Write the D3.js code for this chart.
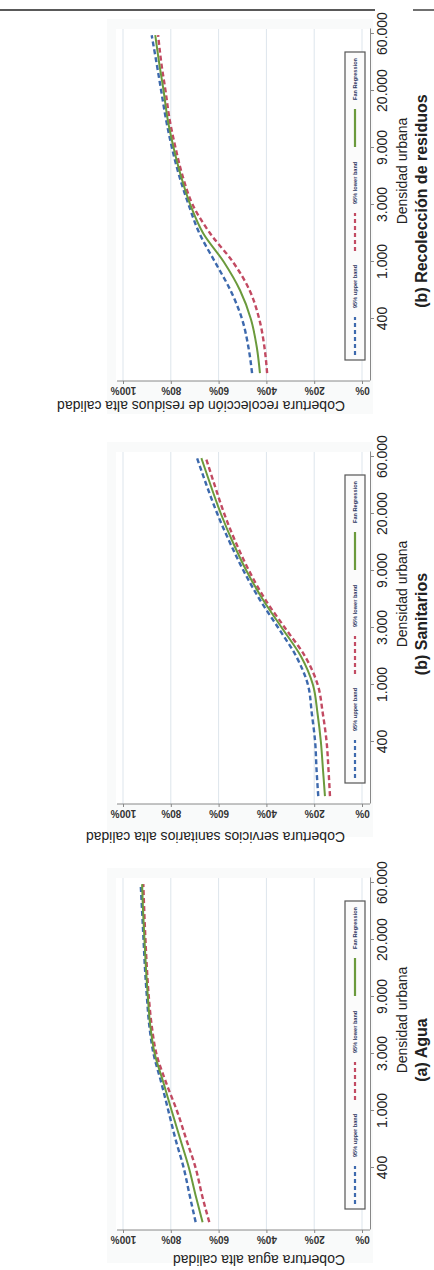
<!DOCTYPE html>
<html>
<head>
<meta charset="utf-8">
<script src="https://cdn.jsdelivr.net/npm/d3@7"></script>
<style>
  body { margin: 0; background: #fff; }
  svg { display: block; }
  text { font-family: "Liberation Sans", Arial, Helvetica, sans-serif; }
</style>
</head>
<body>
<script>
// x axis is ln(density); tick labels are the rounded densities
var xTickValues = [6, 7, 8, 9, 10, 11];
var xTickLabels = ["400", "1.000", "3.000", "9.000", "20.000", "60.000"];
var yTickValues = [0, 20, 40, 60, 80, 100];
var yTickLabels = ["0%", "20%", "40%", "60%", "80%", "100%"];

var lnDensity = [5.05, 5.5, 6, 6.5, 7, 7.5, 8, 8.5, 9, 9.5, 10, 10.5, 10.98];

// (a) Agua
var aguaFit   = [66.7, 69.5, 72.4, 76.0, 79.6, 83.1, 86.7, 88.6, 89.6, 90.4, 91.0, 91.6, 92.0];
var aguaUpper = [69.6, 72.0, 74.6, 78.0, 81.0, 84.0, 87.2, 89.0, 90.0, 90.8, 91.4, 92.0, 92.6];
var aguaLower = [63.9, 66.8, 69.6, 73.5, 77.4, 82.0, 86.0, 88.0, 89.2, 90.0, 90.6, 91.1, 91.5];

// (b) Sanitarios
var saniFit   = [15.5, 16.3, 17.2, 18.6, 20.5, 25.5, 33.5, 41.5, 48.3, 54.0, 59.0, 63.3, 67.2];
var saniUpper = [18.3, 19.0, 19.6, 21.0, 22.6, 27.5, 35.0, 42.8, 49.5, 55.3, 60.5, 65.0, 69.0];
var saniLower = [13.4, 14.0, 14.8, 16.4, 18.5, 23.8, 32.2, 40.5, 47.2, 52.8, 57.6, 61.6, 65.3];

// (b) Recolección de residuos
var recoFit   = [42.7, 44.0, 46.5, 51.0, 57.8, 66.4, 71.8, 75.7, 78.8, 81.3, 83.0, 84.9, 86.5];
var recoUpper = [46.0, 47.5, 50.2, 55.0, 61.5, 68.0, 72.5, 76.4, 79.5, 82.0, 84.0, 86.0, 88.0];
var recoLower = [39.7, 40.8, 43.0, 47.0, 54.0, 63.5, 70.8, 75.0, 78.0, 80.5, 82.2, 84.0, 85.3];

var panelTitles = ["(a) Agua", "(b) Sanitarios", "(b) Recolección de residuos"];
var yTitles = ["Cobertura agua alta calidad",
               "Cobertura servicios sanitarios alta calidad",
               "Cobertura recolección de residuos alta calidad"];
var legendLabels = ["95% upper band", "95% lower band", "Fan Regression"];

var panels = [
  {upper: aguaUpper, lower: aguaLower, fit: aguaFit},
  {upper: saniUpper, lower: saniLower, fit: saniFit},
  {upper: recoUpper, lower: recoLower, fit: recoFit}
];

// layout (page is drawn landscape, then turned onto the portrait window)
var pageW = 1270, pageH = 434;
var panelX = [102, 528, 951];
var yTitleOff = [-87, -90, -82];
var blue = "#3d69ad", red = "#c24a62", green = "#6b9a3c";

var svg = d3.select("body").append("svg")
    .attr("width", 434)
    .attr("height", 1270);

var page = svg.append("g")
    .attr("transform", "translate(0," + pageW + ") rotate(-90)");

page.append("rect").attr("width", pageW).attr("height", pageH).attr("fill", "#fff");

// page rule
page.append("line").attr("x1", 1260).attr("x2", 1260).attr("y1", 0).attr("y2", 375)
    .attr("stroke", "#222").attr("stroke-width", 1.3);
page.append("line").attr("x1", 1260).attr("x2", 1260).attr("y1", 413).attr("y2", 434)
    .attr("stroke", "#222").attr("stroke-width", 1.3);

panels.forEach(function(p, i) {
    var X0 = panelX[i];
    var x = d3.scaleLinear().domain([4.912, 11.088]).range([X0 - 62, X0 + 290]);
    var y = d3.scaleLinear().domain([0, 100]).range([362, 123]);

    var g = page.append("g");

    // graph region and plot region
    g.append("rect")
        .attr("x", X0 - 95).attr("y", 107)
        .attr("width", 395).attr("height", 266)
        .attr("fill", "#f9fafa");
    g.append("rect")
        .attr("x", X0 - 62).attr("y", 116)
        .attr("width", 352).attr("height", 254)
        .attr("fill", "#fff");

    // grid
    g.selectAll(".grid")
        .data(yTickValues)
        .enter().append("line")
        .attr("x1", X0 - 62).attr("x2", X0 + 290)
        .attr("y1", function(d) { return y(d); })
        .attr("y2", function(d) { return y(d); })
        .attr("stroke", "#dde5ec").attr("stroke-width", 1);

    // x axis
    var xa = g.append("g")
        .attr("transform", "translate(0,370)")
        .call(d3.axisBottom(x).tickValues(xTickValues)
            .tickFormat(function(d, k) { return xTickLabels[k]; })
            .tickSize(4).tickSizeOuter(0));
    xa.select(".domain").attr("stroke", "#888");
    xa.selectAll(".tick line").attr("stroke", "#888");
    xa.selectAll("text").attr("font-size", 14).attr("fill", "#222")
        .style("font-family", "'Liberation Sans', Arial, sans-serif");

    // y axis
    var ya = g.append("g")
        .attr("transform", "translate(" + (X0 - 62) + ",0)")
        .call(d3.axisLeft(y).tickValues(yTickValues)
            .tickFormat(function(d, k) { return yTickLabels[k]; })
            .tickSize(3).tickSizeOuter(0));
    ya.select(".domain").remove();
    ya.append("line").attr("x1", 0).attr("x2", 0).attr("y1", 117).attr("y2", 370)
        .attr("stroke", "#888");
    ya.selectAll(".tick line").attr("stroke", "#888");
    ya.selectAll("text")
        .attr("x", 0).attr("dy", 0)
        .attr("text-anchor", "middle")
        .attr("transform", "translate(-6,0) rotate(-90)")
        .attr("font-size", 10).attr("font-weight", "bold").attr("fill", "#333")
        .style("font-family", "'Liberation Sans', Arial, sans-serif");

    // curves
    var line = d3.line()
        .x(function(d, k) { return x(lnDensity[k]); })
        .y(function(d) { return y(d); })
        .curve(d3.curveMonotoneX);

    g.append("path").attr("d", line(p.lower)).attr("fill", "none")
        .attr("stroke", red).attr("stroke-width", 2.4).attr("stroke-dasharray", "5,3");
    g.append("path").attr("d", line(p.upper)).attr("fill", "none")
        .attr("stroke", blue).attr("stroke-width", 2.4).attr("stroke-dasharray", "5,3");
    g.append("path").attr("d", line(p.fit)).attr("fill", "none")
        .attr("stroke", green).attr("stroke-width", 2);

    // legend
    g.append("rect")
        .attr("x", X0 - 41).attr("y", 345)
        .attr("width", 308).attr("height", 20)
        .attr("fill", "#fbfbfb").attr("stroke", "#555").attr("stroke-width", 1.2);
    var colors = [blue, red, green];
    legendLabels.forEach(function(lab, k) {
        var lx = X0 - 36 + 104 * k;
        g.append("line")
            .attr("x1", lx).attr("x2", lx + 38)
            .attr("y1", 355).attr("y2", 355)
            .attr("stroke", colors[k]).attr("stroke-width", 2.2)
            .attr("stroke-dasharray", k < 2 ? "4,3" : null);
        g.append("text")
            .attr("x", lx + 47).attr("y", 357)
            .attr("font-size", 5.6).attr("font-weight", "bold").attr("fill", "#2a3560")
            .text(lab);
    });

    // titles
    g.append("text")
        .attr("transform", "translate(" + (X0 + yTitleOff[i]) + ",345) rotate(-90)")
        .attr("font-size", 14).attr("fill", "#222")
        .text(yTitles[i]);
    g.append("text")
        .attr("x", X0 + 148).attr("y", 407)
        .attr("text-anchor", "middle")
        .attr("font-size", 14).attr("fill", "#222")
        .text("Densidad urbana");
    g.append("text")
        .attr("x", X0 + 118).attr("y", 427)
        .attr("text-anchor", "middle")
        .attr("font-size", 16).attr("font-weight", "bold").attr("fill", "#222")
        .text(panelTitles[i]);
});
</script>
</body>
</html>
